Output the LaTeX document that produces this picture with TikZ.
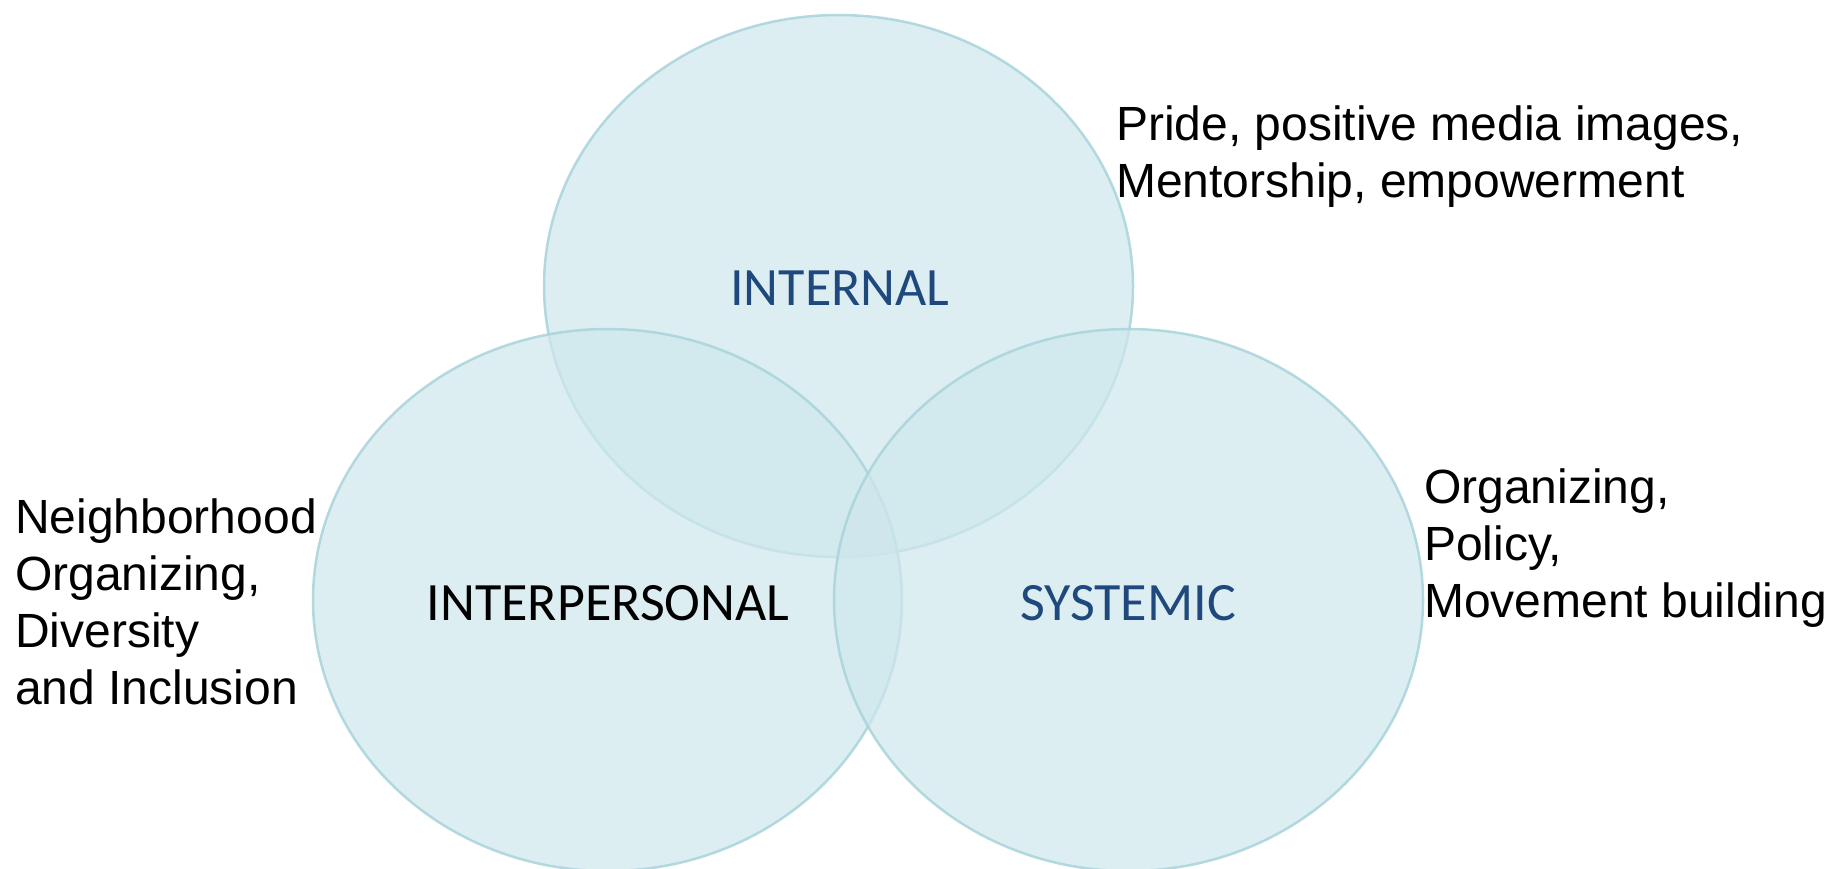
\documentclass[tikz,border=0pt]{standalone}
\usepackage{fontspec}
\setmainfont{Liberation Sans}
\newfontfamily\labelfont{Carlito}
\definecolor{ringfill}{RGB}{206,231,236}
\definecolor{ringline}{RGB}{168,212,219}
\definecolor{labelblue}{RGB}{31,73,125}
\begin{document}
\begin{tikzpicture}[x=1pt,y=-1pt,
  ring/.style={draw=ringline,line width=2.5pt,fill=ringfill,fill opacity=0.7,draw opacity=0.85},
  ringlabel/.style={inner sep=0pt,font=\labelfont\fontsize{54}{60}\selectfont},
  sidetext/.style={inner sep=0pt,anchor=base west,font=\fontsize{48}{57}\selectfont}]
\useasboundingbox (0,0) rectangle (1830,868);
\fill[white] (0,0) rectangle (1830,868);
% rings
\path[ring] (838.5,286) ellipse [x radius=294.5,y radius=271];
\path[ring] (607.5,600) ellipse [x radius=294.5,y radius=271];
\path[ring] (1128.5,600) ellipse [x radius=294.5,y radius=271];
% ring labels
\node[ringlabel,text=labelblue] (internal) at (840,288) {INTERNAL};
\node[ringlabel,text=black] (interpersonal) at (608,603) {INTERPERSONAL};
\node[ringlabel,text=labelblue] (systemic) at (1128,603) {SYSTEMIC};
% side texts
\node[sidetext] (t1a) at (1116,140) {Pride, positive media images,};
\node[sidetext] (t1b) at (1116,197) {Mentorship, empowerment};
\node[sidetext] (t2a) at (15,533) {Neighborhood};
\node[sidetext] (t2b) at (15,590) {Organizing,};
\node[sidetext] (t2c) at (15,647) {Diversity};
\node[sidetext] (t2d) at (15,704) {and Inclusion};
\node[sidetext] (t3a) at (1424,503) {Organizing,};
\node[sidetext] (t3b) at (1424,560) {Policy,};
\node[sidetext] (t3c) at (1424,617) {Movement building};
\end{tikzpicture}
\end{document}
